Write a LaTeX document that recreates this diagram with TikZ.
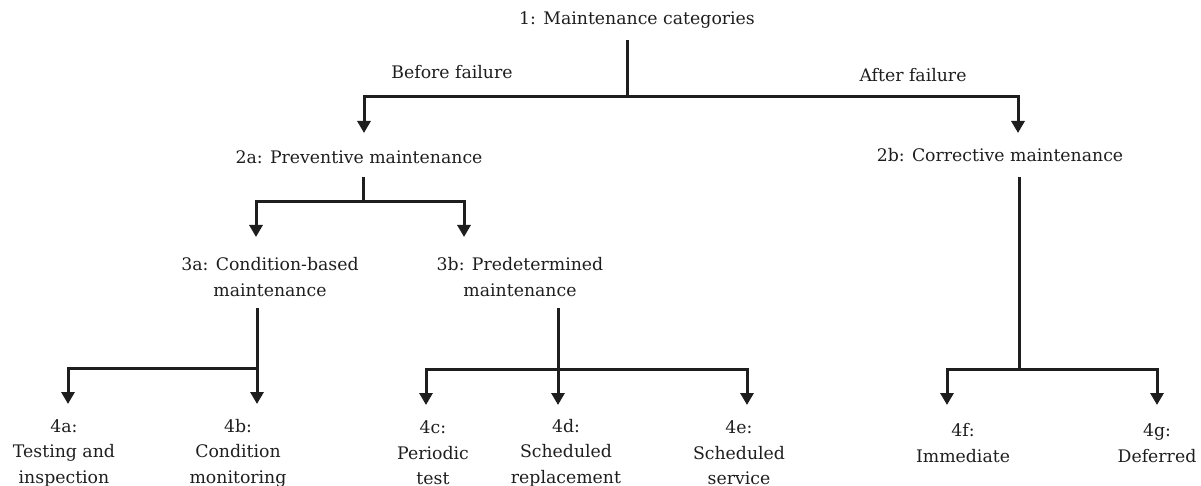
\documentclass[tikz,border=0pt]{standalone}
\usepackage{fontspec}
\setmainfont{DejaVu Serif}
\usetikzlibrary{arrows.meta}
\definecolor{ink}{HTML}{1E1E1E}
\begin{document}
\begin{tikzpicture}[x=1pt,y=-1pt,
  lbl/.style={inner sep=0pt,align=center,text=ink,font=\fontsize{17.3}{25.5}\selectfont},
  conn/.style={draw=ink,line width=3pt},
  arr/.style={conn,-{Triangle[width=13pt,length=12pt]}}]
\useasboundingbox (0,0) rectangle (1201,486);
% text nodes
\node[lbl] (root) at (637,20) {1: Maintenance categories};
\node[lbl] (bf) at (452,72) {Before failure};
\node[lbl] (af) at (913,75) {After failure};
\node[lbl] (pm) at (359,157) {2a: Preventive maintenance};
\node[lbl] (cm) at (1000,155) {2b: Corrective maintenance};
\node[lbl] (cb) at (270,277) {3a: Condition-based\\maintenance};
\node[lbl] (pd) at (520,277) {3b: Predetermined\\maintenance};
\node[lbl] (ti) at (64,453) {4a:\\Testing and\\inspection};
\node[lbl] (cmo) at (238,453) {4b:\\Condition\\monitoring};
\node[lbl] (pt) at (433,453) {4c:\\Periodic\\test};
\node[lbl] (sr) at (566,453) {4d:\\Scheduled\\replacement};
\node[lbl] (ss) at (739,453) {4e:\\Scheduled\\service};
\node[lbl] (im) at (963,443) {4f:\\Immediate};
\node[lbl] (de) at (1157,443) {4g:\\Deferred};
% junction coordinates
\coordinate (r0) at (627,40);
\coordinate (r1) at (627,97);
\coordinate (rL) at (364,97);
\coordinate (rR) at (1018,97);
\coordinate (pmT) at (364,133);
\coordinate (cmT) at (1018,133);
\coordinate (p0) at (363,177);
\coordinate (p1) at (363,202);
\coordinate (pL) at (256,202);
\coordinate (pR) at (464,202);
\coordinate (cbT) at (256,237);
\coordinate (pdT) at (464,237);
\coordinate (c0) at (1019,177);
\coordinate (c1) at (1019,369);
\coordinate (cL) at (947,369);
\coordinate (cR) at (1157,369);
\coordinate (imT) at (947,405);
\coordinate (deT) at (1157,405);
\coordinate (a0) at (257,308);
\coordinate (a1) at (257,368);
\coordinate (aL) at (68,368);
\coordinate (tiT) at (68,404);
\coordinate (cmoT) at (257,404);
\coordinate (b0) at (558,308);
\coordinate (b1) at (558,369);
\coordinate (bL) at (426,369);
\coordinate (bR) at (747,369);
\coordinate (ptT) at (426,405);
\coordinate (srT) at (558,405);
\coordinate (ssT) at (747,405);
% connectors
\draw[conn] (r0) -- (r1);
\draw[arr] (r1) -- (rL) -- (pmT);
\draw[arr] (r1) -- (rR) -- (cmT);
\draw[conn] (p0) -- (p1);
\draw[arr] (p1) -- (pL) -- (cbT);
\draw[arr] (p1) -- (pR) -- (pdT);
\draw[conn] (c0) -- (c1);
\draw[arr] (c1) -- (cL) -- (imT);
\draw[arr] (c1) -- (cR) -- (deT);
\draw[arr] (a0) -- (a1) -- (cmoT);
\draw[arr] (a1) -- (aL) -- (tiT);
\draw[arr] (b0) -- (b1) -- (srT);
\draw[arr] (b1) -- (bL) -- (ptT);
\draw[arr] (b1) -- (bR) -- (ssT);
\end{tikzpicture}
\end{document}
